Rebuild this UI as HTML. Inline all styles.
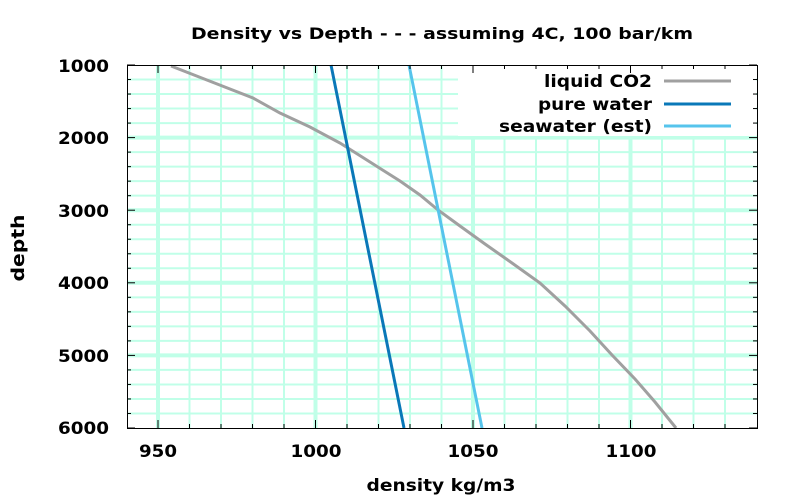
<!DOCTYPE html>
<html><head><style>body{margin:0;background:#fff}svg{display:block}text{font-family:"DejaVu Sans","Liberation Sans",sans-serif;font-weight:bold}</style></head>
<body>
<svg width="800" height="500" viewBox="0 0 800 500" xmlns="http://www.w3.org/2000/svg">
<g id="grid" stroke="#c0ffe8">
</g>
<rect x="458" y="66" width="298" height="70" fill="#fff"/>
<g fill="none" stroke-width="3">
<polyline stroke="#a0a0a0" points="171,66 212,82 253,98 280,113 310,127 340,143 370,162 400,181 420,195 438,210 460,226 485,244 512,263 540,283 565,306 590,331 612,355 635,379 655,402 676,428"/>
<polyline stroke="#0a78b8" points="331,65 404,428"/>
<polyline stroke="#56c4ec" points="409,65 482,428"/>
</g>
<rect x="127.5" y="65.5" width="630" height="363" fill="none" stroke="#000"/>
<g id="ticks" stroke="#000"></g>
<g font-size="17" text-anchor="end">
<text x="109" y="72" textLength="51" lengthAdjust="spacingAndGlyphs">1000</text><text x="109" y="144" textLength="51" lengthAdjust="spacingAndGlyphs">2000</text><text x="109" y="217" textLength="51" lengthAdjust="spacingAndGlyphs">3000</text><text x="109" y="289" textLength="51" lengthAdjust="spacingAndGlyphs">4000</text><text x="109" y="362" textLength="51" lengthAdjust="spacingAndGlyphs">5000</text><text x="109" y="434" textLength="51" lengthAdjust="spacingAndGlyphs">6000</text>
</g>
<g font-size="17" text-anchor="middle">
<text x="158" y="457" textLength="38" lengthAdjust="spacingAndGlyphs">950</text><text x="316" y="457" textLength="51" lengthAdjust="spacingAndGlyphs">1000</text><text x="473" y="457" textLength="51" lengthAdjust="spacingAndGlyphs">1050</text><text x="631" y="457" textLength="51" lengthAdjust="spacingAndGlyphs">1100</text>
<text x="441" y="491" textLength="149" lengthAdjust="spacingAndGlyphs">density kg/m3</text>
<text x="442" y="39" font-size="16" textLength="502" lengthAdjust="spacingAndGlyphs">Density vs Depth - - -  assuming 4C, 100 bar/km</text>
</g>
<text x="0" y="0" font-size="18" text-anchor="middle" textLength="67" lengthAdjust="spacingAndGlyphs" transform="translate(24,248) rotate(-90)">depth</text>
<g font-size="17" text-anchor="end">
<text x="652" y="87" textLength="108" lengthAdjust="spacingAndGlyphs">liquid CO2</text><text x="652" y="110" textLength="114" lengthAdjust="spacingAndGlyphs">pure water</text><text x="652" y="132" textLength="153" lengthAdjust="spacingAndGlyphs">seawater (est)</text>
</g>
<g stroke-width="3">
<line x1="664" y1="81" x2="731" y2="81" stroke="#a0a0a0"/>
<line x1="664" y1="104" x2="731" y2="104" stroke="#0a78b8"/>
<line x1="664" y1="126" x2="731" y2="126" stroke="#56c4ec"/>
</g>
<script>
var g=document.getElementById('grid'),t=document.getElementById('ticks'),ns='http://www.w3.org/2000/svg';
function L(p,a,b,c,d,w){var l=document.createElementNS(ns,'line');l.setAttribute('x1',a);l.setAttribute('y1',b);l.setAttribute('x2',c);l.setAttribute('y2',d);l.setAttribute('stroke-width',w);p.insertBefore(l,p.firstChild);}
for(var v=950;v<=1130;v+=10){var x=158+(v-950)*3.15;L(g,x,65,x,428,v%50==0?4:2);var tl=v%50==0?8:4;L(t,x,428,x,428-tl,1);L(t,x,65,x,65+tl,1);}
for(var d=1200;d<6000;d+=200){var y=65+(d-1000)*0.0726;L(g,127,y,757,y,d%1000==0?4:2);}
for(var d=1000;d<=6000;d+=200){var y=65+(d-1000)*0.0726;var tl=d%1000==0?8:4;L(t,127,y,127+tl,y,1);L(t,757,y,757-tl,y,1);}
</script>
</svg>
</body></html>
